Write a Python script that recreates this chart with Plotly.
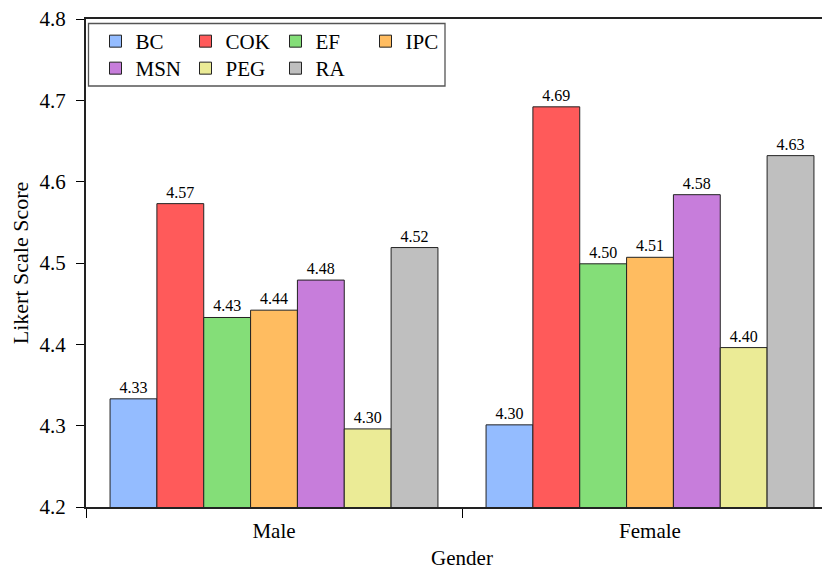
import plotly.graph_objects as go

categories = ["Male", "Female"]
series_names = ["BC", "COK", "EF", "IPC", "MSN", "PEG", "RA"]
bc = [4.333, 4.301]
cok = [4.573, 4.692]
ef = [4.433, 4.499]
ipc = [4.442, 4.507]
msn = [4.479, 4.584]
peg = [4.296, 4.396]
ra = [4.519, 4.632]
series_values = [bc, cok, ef, ipc, msn, peg, ra]
colors = ["#94BCFF", "#FF5A5A", "#84DE78", "#FFBC60", "#C77DDB", "#EBEB96", "#BFBFBF"]
y_ticks = [4.2, 4.3, 4.4, 4.5, 4.6, 4.7, 4.8]

FONT = "Liberation Serif, Times New Roman, serif"

fig = go.Figure()
for i, (name, vals, col) in enumerate(zip(series_names, series_values, colors)):
    fig.add_trace(go.Bar(
        x=categories, y=vals, name=name,
        marker=dict(color=col, line=dict(color="#222222", width=1)),
        text=[f"{v:.2f}" for v in vals], textposition="outside",
        textfont=dict(family=FONT, size=16, color="black"),
        cliponaxis=False,
        legend="legend" if i < 4 else "legend2",
    ))

# the page body adds an 8px offset; figure coordinates below are in figure pixels
W, H = 830, 573
ml, mr, mt, mb = 78, 0, 11, 74
pw = W - ml - mr
ph = H - mt - mb

def px_x(p):
    return (p - ml) / pw

def px_y(p):
    return (H - mb - p) / ph

legend_common = dict(
    orientation="h", xanchor="left", yanchor="top",
    bgcolor="rgba(0,0,0,0)", borderwidth=0,
    font=dict(family=FONT, size=21, color="black"),
    entrywidth=45, entrywidthmode="pixels",
    traceorder="normal",
)

fig.update_layout(
    width=W, height=H,
    margin=dict(l=ml, r=mr, t=mt, b=mb, autoexpand=False),
    paper_bgcolor="white", plot_bgcolor="white",
    font=dict(family=FONT, size=21, color="black"),
    barmode="group", bargap=0.128, bargroupgap=0,
    legend=dict(x=px_x(87.5), y=px_y(13), **legend_common),
    legend2=dict(x=px_x(87.5), y=px_y(40), **legend_common),
    shapes=[dict(type="rect", xref="paper", yref="paper",
                 x0=px_x(80.5), x1=px_x(437), y0=px_y(78), y1=px_y(15.5),
                 line=dict(color="#555555", width=1.3), fillcolor="white",
                 layer="above")],
    xaxis=dict(
        range=[-0.5, 1.5], tickson="boundaries",
        ticks="outside", ticklen=9, tickwidth=1.3, tickcolor="black",
        ticklabelstandoff=4,
        showline=True, linecolor="#222222", linewidth=2, mirror=True,
        showgrid=False, zeroline=False,
        tickfont=dict(family=FONT, size=21, color="black"),
        title=dict(text="Gender", font=dict(family=FONT, size=21, color="black"), standoff=8),
    ),
    yaxis=dict(
        range=[4.2, 4.8], tickvals=y_ticks, ticktext=[f"{v:.1f}" for v in y_ticks],
        ticks="outside", ticklen=8, tickwidth=1.3, tickcolor="black",
        ticklabelstandoff=6, ticklabeloverflow="allow",
        showline=True, linecolor="#222222", linewidth=2, mirror=False,
        showgrid=False, zeroline=False,
        tickfont=dict(family=FONT, size=21, color="black"),
        title=dict(text="Likert Scale Score", font=dict(family=FONT, size=22, color="black"), standoff=11),
    ),
)

fig.write_html("out.html")
